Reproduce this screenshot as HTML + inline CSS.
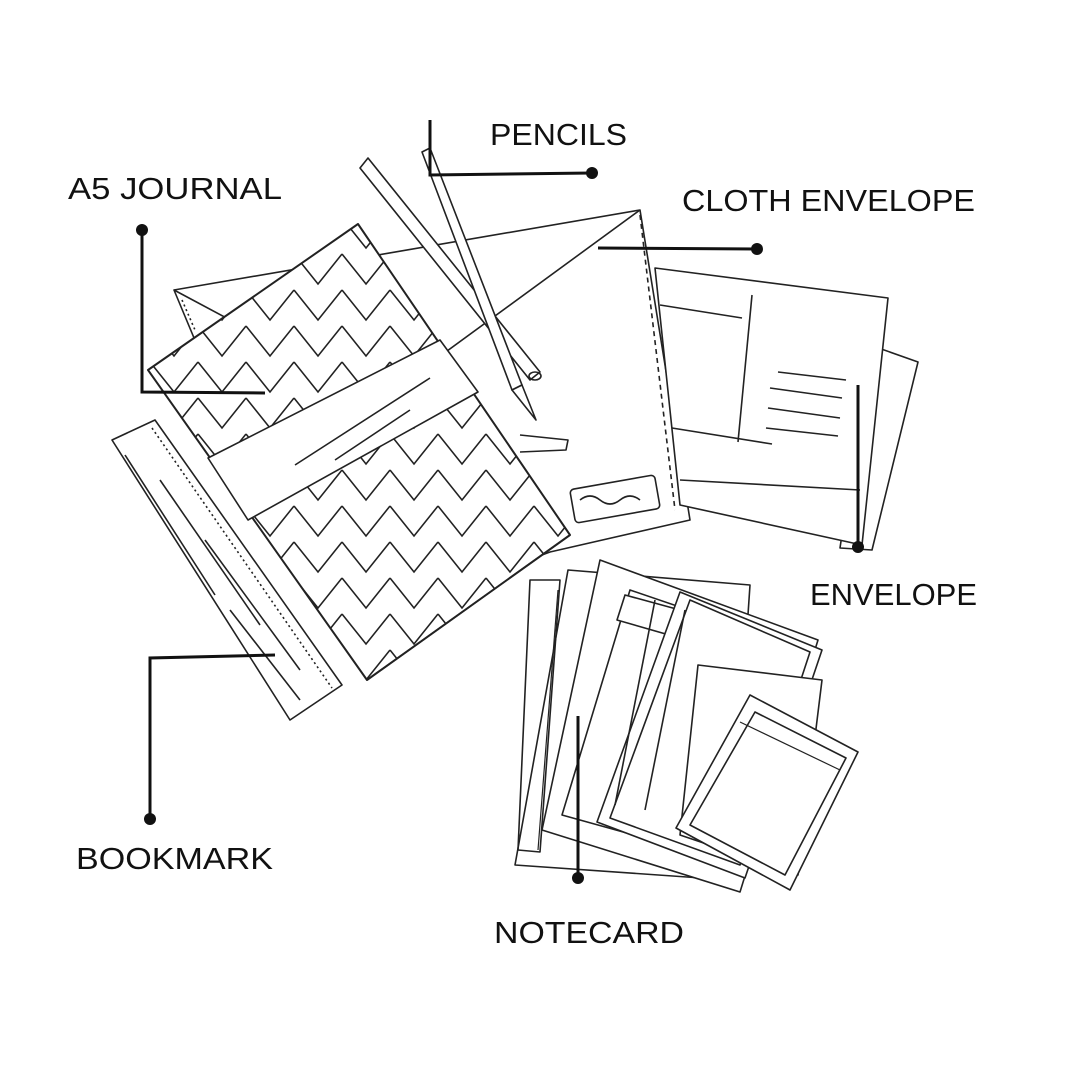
<!DOCTYPE html>
<html><head><style>
html,body{margin:0;padding:0;background:#fff;width:1080px;height:1080px;overflow:hidden}
svg{display:block}
text{font-family:"Liberation Sans",sans-serif;font-size:31px;fill:#111}
</style></head><body>
<svg width="1080" height="1080" viewBox="0 0 1080 1080" xmlns="http://www.w3.org/2000/svg">
<defs>
<clipPath id="jc"><polygon points="148,370 358,224 570,535 367,680"/></clipPath>
<pattern id="zz" width="48" height="36" patternUnits="userSpaceOnUse" patternTransform="translate(6,0)">
<polyline points="0,2 24,32 48,2" fill="none" stroke="#222" stroke-width="1.6"/>
</pattern>
</defs>
<g fill="none" stroke="#222" stroke-width="1.6" stroke-linejoin="round">
<polygon points="174,290 640,210 690,520 550,552 420,600 270,520" fill="#fff"/>
<polyline points="174,290 380,400 640,210"/>
<line x1="640" y1="215" x2="675" y2="510" stroke-dasharray="5,4"/>
<line x1="182" y1="300" x2="195" y2="330" stroke-dasharray="2,3"/>
<rect x="572" y="482" width="86" height="34" rx="4" transform="rotate(-10 615 499)"/>
<path d="M580 500 q10 -8 20 0 t20 0 t20 0" />
<path d="M520 435 L568 440 L566 450 L520 452"/>
<polygon points="870,345 918,362 872,550 840,548" fill="#fff"/>
<polygon points="655,268 888,298 862,545 680,505" fill="#fff"/>
<line x1="660" y1="305" x2="742" y2="318"/>
<line x1="752" y1="295" x2="738" y2="442"/>
<line x1="672" y1="428" x2="772" y2="444"/>
<line x1="680" y1="480" x2="860" y2="490"/>
<line x1="778" y1="372" x2="846" y2="380"/>
<line x1="770" y1="388" x2="842" y2="398"/>
<line x1="768" y1="408" x2="840" y2="418"/>
<line x1="766" y1="428" x2="838" y2="436"/>
<polygon points="360,168 368,158 540,372 530,380" fill="#fff"/>
<ellipse cx="535" cy="376" rx="6" ry="4"/>
<polygon points="422,152 430,148 522,385 512,390" fill="#fff"/>
<polygon points="512,390 522,385 536,420" fill="#fff"/>
<polygon points="148,370 358,224 570,535 367,680" fill="#fff" stroke-width="2"/>
<rect x="140" y="210" width="440" height="480" fill="url(#zz)" clip-path="url(#jc)" stroke="none"/>
<polygon points="208,458 440,340 478,392 248,520" fill="#fff"/>
<line x1="295" y1="465" x2="430" y2="378"/>
<line x1="335" y1="460" x2="410" y2="410"/>
<line x1="367" y1="680" x2="570" y2="535"/>
<polygon points="112,440 155,420 342,685 290,720" fill="#fff"/>
<line x1="152" y1="428" x2="332" y2="688" stroke-dasharray="2,3"/>
<line x1="125" y1="455" x2="215" y2="595"/>
<line x1="160" y1="480" x2="260" y2="625"/>
<line x1="205" y1="540" x2="300" y2="670"/>
<line x1="230" y1="610" x2="300" y2="700"/>
<polygon points="568,570 750,585 730,880 515,865" fill="#fff"/>
<polygon points="530,580 560,580 540,852 518,850"/>
<line x1="558" y1="590" x2="538" y2="850" stroke-width="1.2"/>
<polygon points="600,560 818,640 740,892 542,830" fill="#fff"/>
<polygon points="630,590 812,652 760,870 562,815"/>
<polygon points="625,595 808,645 798,672 617,620" fill="#fff"/>
<polygon points="680,592 822,650 745,878 597,822" fill="#fff"/>
<polygon points="690,600 810,652 740,865 610,818"/>
<line x1="655" y1="600" x2="615" y2="805"/>
<line x1="685" y1="610" x2="645" y2="810"/>
<polygon points="698,665 822,680 798,875 680,835" fill="#fff"/>
<polygon points="750,695 858,752 790,890 676,828" fill="#fff"/>
<polygon points="755,712 846,758 785,875 690,825"/>
<line x1="740" y1="722" x2="840" y2="770" stroke-width="1.2"/>
</g>
<g stroke="#111" stroke-width="3" fill="none">
<polyline points="430,120 430,175 592,173"/>
<polyline points="142,230 142,392 265,393"/>
<line x1="598" y1="248" x2="757" y2="249"/>
<line x1="858" y1="385" x2="858" y2="547"/>
<polyline points="150,819 150,658 275,655"/>
<line x1="578" y1="716" x2="578" y2="878"/>
</g>
<g fill="#111">
<circle cx="592" cy="173" r="6"/><circle cx="142" cy="230" r="6"/><circle cx="757" cy="249" r="6"/>
<circle cx="858" cy="547" r="6"/><circle cx="150" cy="819" r="6"/><circle cx="578" cy="878" r="6"/>
</g>
<text x="490" y="145" textLength="137" lengthAdjust="spacingAndGlyphs">PENCILS</text>
<text x="68" y="199" textLength="214" lengthAdjust="spacingAndGlyphs">A5 JOURNAL</text>
<text x="682" y="211" textLength="293" lengthAdjust="spacingAndGlyphs">CLOTH ENVELOPE</text>
<text x="810" y="605" textLength="167" lengthAdjust="spacingAndGlyphs">ENVELOPE</text>
<text x="76" y="869" textLength="197" lengthAdjust="spacingAndGlyphs">BOOKMARK</text>
<text x="494" y="943" textLength="190" lengthAdjust="spacingAndGlyphs">NOTECARD</text>
</svg>
</body></html>
